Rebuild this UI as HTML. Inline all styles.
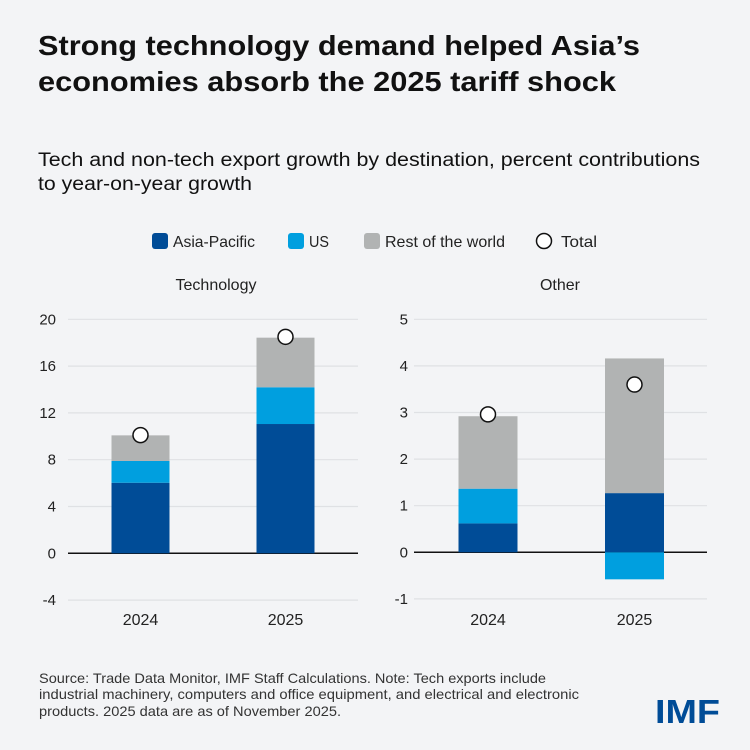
<!DOCTYPE html>
<html><head><meta charset="utf-8"><style>
html,body{margin:0;padding:0;background:#f3f4f6;}
svg{display:block;font-family:"Liberation Sans",sans-serif;}
</style></head><body>
<svg id="c" width="750" height="750" viewBox="0 0 750 750">
<rect width="750" height="750" fill="#f3f4f6"/>
<g font-weight="bold" font-size="28" fill="#111">
<text x="38" y="55" textLength="602" lengthAdjust="spacingAndGlyphs">Strong technology demand helped Asia’s</text>
<text x="38" y="91" textLength="578" lengthAdjust="spacingAndGlyphs">economies absorb the 2025 tariff shock</text>
</g>
<g font-size="19" fill="#111">
<text x="38" y="166" textLength="662" lengthAdjust="spacingAndGlyphs">Tech and non-tech export growth by destination, percent contributions</text>
<text x="38" y="190" textLength="214" lengthAdjust="spacingAndGlyphs">to year-on-year growth</text>
</g>
<g font-size="16" fill="#222">
<g><rect x="152" y="233" width="16" height="16" rx="3" fill="#004c97"/><text x="173" y="247" textLength="82" lengthAdjust="spacingAndGlyphs">Asia-Pacific</text></g>
<g><rect x="288" y="233" width="16" height="16" rx="3" fill="#009fdf"/><text x="309" y="247" textLength="20" lengthAdjust="spacingAndGlyphs">US</text></g>
<g><rect x="364" y="233" width="16" height="16" rx="3" fill="#b1b3b3"/><text x="385" y="247" textLength="120" lengthAdjust="spacingAndGlyphs">Rest of the world</text></g>
<g><circle cx="544" cy="241" r="7.5" fill="#fff" stroke="#111" stroke-width="1.5"/><text x="561" y="247" textLength="36" lengthAdjust="spacingAndGlyphs">Total</text></g>
</g>
<text x="216" y="290" text-anchor="middle" font-size="16" fill="#222">Technology</text>
<text x="560" y="290" text-anchor="middle" font-size="16" fill="#222">Other</text>
<g id="p1"></g>
<g id="p2"></g>
<g font-size="14" fill="#333">
<text x="39" y="683" textLength="507" lengthAdjust="spacingAndGlyphs">Source: Trade Data Monitor, IMF Staff Calculations. Note: Tech exports include</text>
<text x="39" y="699" textLength="540" lengthAdjust="spacingAndGlyphs">industrial machinery, computers and office equipment, and electrical and electronic</text>
<text x="39" y="716" textLength="302" lengthAdjust="spacingAndGlyphs">products. 2025 data are as of November 2025.</text>
</g>
<text x="655" y="723" font-size="33" font-weight="bold" fill="#004c97" textLength="65" lengthAdjust="spacingAndGlyphs">IMF</text>
</svg>
<script>
const years = ["2024","2025"];
const techAsia = [6.03, 11.05];
const techUS = [1.86, 3.14];
const techRest = [2.19, 4.24];
const techTotal = [10.1, 18.5];
const techTicks = [-4,0,4,8,12,16,20];
const otherAsia = [0.62, 1.27];
const otherUS = [0.745, -0.58];
const otherRest = [1.555, 2.89];
const otherTotal = [2.96, 3.6];
const otherTicks = [-1,0,1,2,3,4,5];

const NS="http://www.w3.org/2000/svg";
function mk(parent,tag,attrs){const e=document.createElementNS(NS,tag);for(const k in attrs)e.setAttribute(k,attrs[k]);parent.appendChild(e);return e;}
function panel(g,cfg){
  const y=v=>cfg.y0+(v-cfg.vmin)*(cfg.y1-cfg.y0)/(cfg.vmax-cfg.vmin);
  const x=i=>cfg.xc[i];
  cfg.ticks.forEach(t=>{
    const ln=mk(g,'line',{x1:cfg.gx0,x2:cfg.gx1,y1:y(t),y2:y(t),stroke:t===0?'#111':'#dfe1e4','stroke-width':t===0?1.5:1.2});
    
    
    const tx=mk(g,'text',{x:cfg.lx,y:y(t)+5,'text-anchor':'end','font-size':15,fill:'#222'});
    tx.textContent=String(t);
    
    
  });
  const bw=cfg.bw;
  years.forEach((yr,i)=>{
    let pos=0,neg=0;
    [[cfg.asia,'#004c97','asia-pacific'],[cfg.us,'#009fdf','us'],[cfg.rest,'#b1b3b3','rest-of-world']].forEach(([arr,col,nm])=>{
      const v=arr[i];let a,b;
      if(v>=0){a=pos;b=pos+v;pos=b;}else{a=neg;b=neg+v;neg=b;}
      const top=y(Math.max(a,b)),bot=y(Math.min(a,b));
      const r=mk(g,'rect',{x:x(i)-bw/2,y:top,width:bw,height:bot-top,fill:col});
      
      
    });
    const c=mk(g,'circle',{cx:x(i),cy:y(cfg.total[i]),r:7.5,fill:'#fff',stroke:'#111','stroke-width':1.5});
    
    
    const t=mk(g,'text',{x:x(i),y:625,'text-anchor':'middle','font-size':16,fill:'#222'});
    t.textContent=yr;
    
    
  });
}
panel(document.getElementById('p1'),{vmin:0,vmax:20,y0:553.3,y1:319.3,ticks:techTicks,gx0:68,gx1:358,lx:56,xc:[140.5,285.5],bw:58,asia:techAsia,us:techUS,rest:techRest,total:techTotal});
panel(document.getElementById('p2'),{vmin:0,vmax:5,y0:552.3,y1:319.3,ticks:otherTicks,gx0:414,gx1:707,lx:408,xc:[488,634.5],bw:59,asia:otherAsia,us:otherUS,rest:otherRest,total:otherTotal});
</script>
</body></html>
